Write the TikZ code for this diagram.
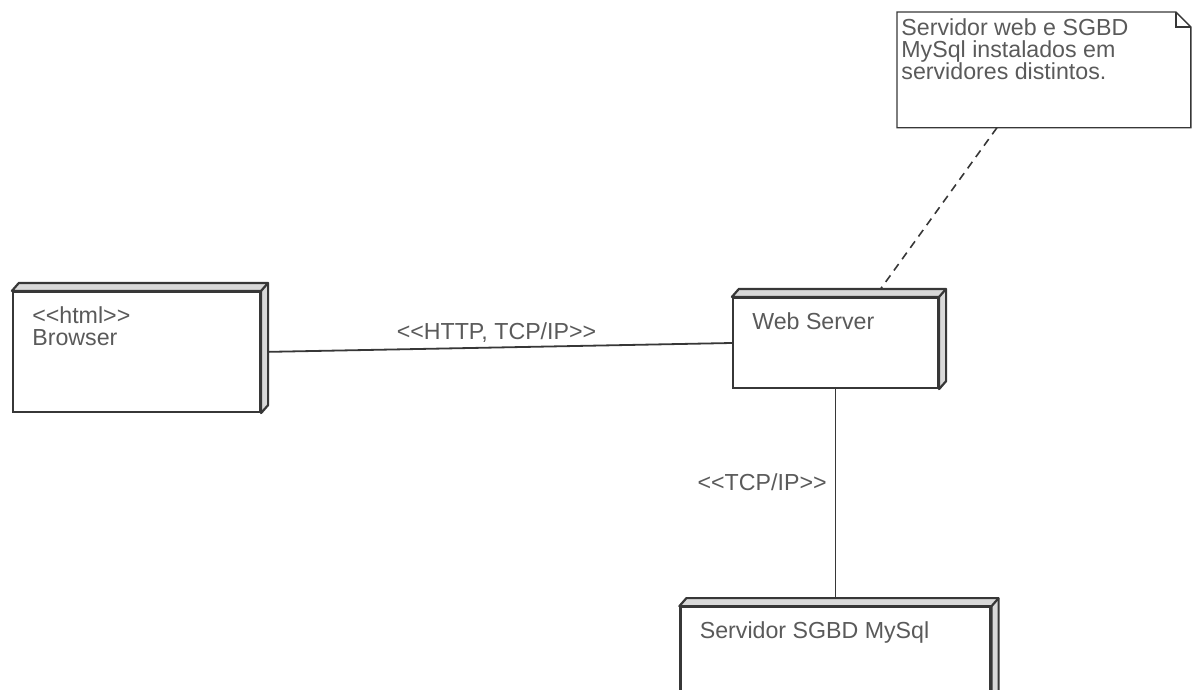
\documentclass[tikz,border=0pt]{standalone}
\usepackage{fontspec}
\setmainfont{Liberation Sans}[Ligatures=TeXOff]
\usepackage{tikz}
\usetikzlibrary{positioning,calc}
\definecolor{umlline}{RGB}{55,55,55}
\definecolor{umltext}{RGB}{90,90,90}
\newcommand\umlsize{\fontsize{11.6}{11}\selectfont}
\tikzset{
  devnode/.style={draw=umlline, line width=1.1pt, fill=white, inner sep=0pt},
  devtext/.style={font=\umlsize, text=umltext, align=left, inner sep=0pt,
                  anchor=north west, xshift=10pt, yshift=-7.5pt},
  face/.style={draw=umlline, line width=1.1pt, fill=gray!30, line join=round},
  link/.style={draw=umlline, line width=0.9pt},
  lbl/.style={font=\umlsize, text=umltext, inner sep=0pt},
  notebox/.style={inner sep=0pt, minimum width=146.5pt, minimum height=57.5pt},
  noteline/.style={draw=umlline, line width=0.7pt},
  anchorline/.style={draw=umlline, line width=0.8pt, dash pattern=on 4pt off 3pt}
}
% 3D faces of a node box
\newcommand\devdepth[1]{%
  \filldraw[face] (#1.north west) -- ++(3.5pt,4pt) -- ($(#1.north east)+(3.5pt,4pt)$)
    -- ($(#1.south east)+(3.5pt,4pt)$) -- (#1.south east) -- (#1.north east) -- cycle;
  \draw[face] (#1.north east) -- ++(3.5pt,4pt);}
\begin{document}
\begin{tikzpicture}[x=0.5pt, y=-0.5pt]
  \useasboundingbox (0,0) rectangle (1195,690);
  \clip (0,0) rectangle (1195,690);

  \node[devnode, minimum width=123.5pt, minimum height=60pt,
        label={[devtext]north west:{<<html>>\\Browser}}] (browser) at (136.5,352) {};
  \node[devnode, minimum width=102.5pt, minimum height=45pt,
        label={[devtext]north west:{Web Server}}] (web) at (835.5,343) {};
  \node[devnode, minimum width=155pt, minimum height=55pt, below=108.5pt of web,
        label={[devtext]north west:{Servidor SGBD MySql}}] (sgbd) {};
  \node[notebox, anchor=north west,
        label={[font=\umlsize, text=umltext, align=left, inner sep=0pt, anchor=north west,
                xshift=2pt, yshift=-3pt]north west:{Servidor web e SGBD\\MySql instalados em\\servidores distintos.}}]
        (note) at (897,12) {};

  \draw[link] (browser.east) -- node[lbl, above=2pt] {<<HTTP, TCP/IP>>} (web.west);
  \draw[link] (web.south) -- node[lbl, pos=0.43, left=4pt] {<<TCP/IP>>} (sgbd.north);
  \draw[anchorline] ($(note.south west)!0.34!(note.south east)$)
    -- ($(web.north west)!0.69!(web.north east)$);

  \devdepth{browser}
  \devdepth{web}
  \devdepth{sgbd}

  % note with folded corner
  \draw[noteline] (note.north west) -- ($(note.north east)+(-7.5pt,0)$)
    -- ($(note.north east)+(0,-7.5pt)$) -- (note.south east) -- (note.south west) -- cycle;
  \draw[noteline] ($(note.north east)+(-7.5pt,0)$) |- ($(note.north east)+(0,-7.5pt)$);
\end{tikzpicture}
\end{document}
